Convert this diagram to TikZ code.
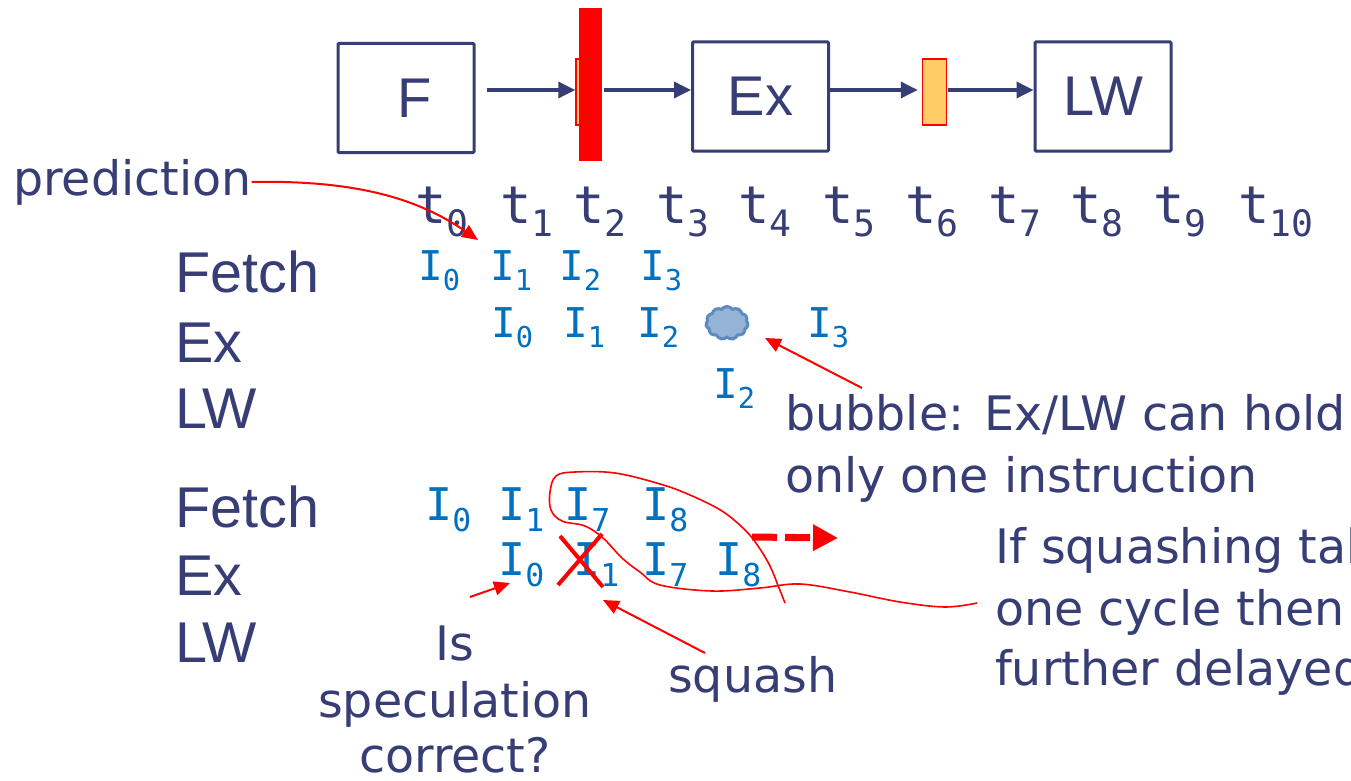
\documentclass[tikz,border=0pt]{standalone}
\usepackage{fontspec}
\usepackage{graphicx}
\setmainfont{Liberation Sans}
\newfontfamily\comic{DejaVu Sans}
\newfontfamily\mono{DejaVu Sans Mono}
\usetikzlibrary{arrows.meta,positioning,shapes.symbols}
\definecolor{navy}{RGB}{55,61,117}
\definecolor{iblue}{RGB}{0,112,192}
\definecolor{regorange}{RGB}{255,204,102}
\definecolor{bubfill}{RGB}{149,179,215}
\definecolor{bubdraw}{RGB}{91,139,192}
\newcommand{\sub}[1]{\raisebox{-0.25em}{\scalebox{0.7}{#1}}}

\begin{document}
\begin{tikzpicture}[x=1pt,y=-1pt,
stage/.style={draw=navy,line width=3pt,rounded corners=1pt,text=navy,
  minimum width=136pt,minimum height=109pt,font=\fontsize{56}{60}\selectfont},
reg/.style={draw=red,line width=1.5pt,fill=regorange,minimum width=24pt,minimum height=66pt,inner sep=0pt},
flow/.style={draw=navy,line width=3.5pt,-{Triangle[length=17pt,width=16pt]}},
redarrow/.style={draw=red,line width=2.5pt,-{Triangle[length=16pt,width=14pt]}},
rowlab/.style={anchor=base west,inner sep=0pt,text=navy,font=\fontsize{57.5}{60}\selectfont},
tick/.style={anchor=base west,inner sep=0pt,text=navy,font=\mono\fontsize{52}{56}\selectfont},
ins/.style={anchor=base west,inner sep=0pt,text=iblue,font=\mono\fontsize{41}{45}\selectfont},
insb/.style={ins,font=\mono\fontsize{45}{49}\selectfont},
note/.style={anchor=base west,inner sep=0pt,text=navy,font=\comic\fontsize{47.5}{50}\selectfont}]
\useasboundingbox (0,0) rectangle (1351,781);
\clip (0,0) rectangle (1351,781);
\fill[white] (0,0) rectangle (1351,781);

\node[stage] (boxF) at (406,98) {\hspace*{18pt}F};
\node[stage] (boxEx) at (760.5,96.5) {Ex};
\node[stage] (boxLW) at (1103,96.5) {LW};
\node[reg] (regA) at (588,92) {};
\node[fill=red,minimum width=23pt,minimum height=153pt,inner sep=0pt] (barA) at (590.5,84.5) {};
\node[reg] (regB) at (934.5,92) {};
\coordinate (lane) at (0,90);
\draw[flow,shorten <=11pt] (boxF.east |- lane) -- (regA.west |- lane);
\draw[flow,shorten <=2pt] (barA.east |- lane) -- (boxEx.west |- lane);
\draw[flow,shorten >=4pt] (boxEx.east |- lane) -- (regB.west |- lane);
\draw[flow,shorten <=1pt] (regB.east |- lane) -- (boxLW.west |- lane);

\node[note] (pred) at (13,195) {prediction};
\node[tick] (t0) at (415,223) {t\sub{0}};
\node[tick] (t1) at (500,223) {t\sub{1}};
\node[tick] (t2) at (573,223) {t\sub{2}};
\node[tick] (t3) at (656,223) {t\sub{3}};
\node[tick] (t4) at (738,223) {t\sub{4}};
\node[tick] (t5) at (822,223) {t\sub{5}};
\node[tick] (t6) at (905,223) {t\sub{6}};
\node[tick] (t7) at (988,223) {t\sub{7}};
\node[tick] (t8) at (1070,223) {t\sub{8}};
\node[tick] (t9) at (1153,223) {t\sub{9}};
\node[tick] (t10) at (1238,223) {t\sub{10}};
\coordinate (predTip) at (478,240);
\draw[redarrow,line width=2pt] (pred.east) .. controls (360,180) and (420,200) .. (predTip);

\node[rowlab] (labFa) at (175,292) {Fetch};
\node[rowlab] (labEa) at (175,362) {Ex};
\node[rowlab] (labLa) at (175,428) {LW};
\node[ins] (fa0) at (418,280) {I\sub{0}};
\node[ins] (fa1) at (490,280) {I\sub{1}};
\node[ins] (fa2) at (559,280) {I\sub{2}};
\node[ins] (fa3) at (640,280) {I\sub{3}};
\node[ins] (ea0) at (491,337) {I\sub{0}};
\node[ins] (ea1) at (563,337) {I\sub{1}};
\node[ins] (ea2) at (637,337) {I\sub{2}};
\node[ins] (ea3) at (807,337) {I\sub{3}};
\node[ins] (la2) at (713,398) {I\sub{2}};
\node[cloud,cloud puffs=11,cloud puff arc=110,aspect=1.3,fill=bubfill,draw=bubdraw,
  line width=3pt,minimum width=42pt,minimum height=33pt,inner sep=0pt] (bubble) at (727,323) {};
\node[note] (bubA) at (785,430) {bubble: Ex/LW can hold};
\node[note] (bubB) at (785,492) {only one instruction};
\coordinate (bubTail) at (862,388);
\coordinate (bubTip) at (765,338);
\draw[redarrow,line width=2pt] (bubTail) -- (bubTip);

\node[rowlab] (labFb) at (175,527) {Fetch};
\node[rowlab] (labEb) at (175,595) {Ex};
\node[rowlab] (labLb) at (175,662) {LW};
\node[insb] (fb0) at (425,520) {I\sub{0}};
\node[insb] (fb1) at (498,520) {I\sub{1}};
\node[insb] (fb7) at (564,520) {I\sub{7}};
\node[insb] (fb8) at (642,520) {I\sub{8}};
\node[insb] (eb0) at (498,575) {I\sub{0}};
\node[insb] (eb1) at (573,575) {I\sub{1}};
\node[insb] (eb7) at (642,575) {I\sub{7}};
\node[insb] (eb8) at (715,575) {I\sub{8}};
\draw[red,line width=4pt] (560,536) -- (603,587);
\draw[red,line width=4pt] (558,585) -- (602,534);
\draw[red,line width=1.6pt] plot[smooth,tension=0.6] coordinates {(785,603) (779,588) (770,566)
  (758,546) (745,530) (722,511) (690,495) (660,484) (615,473) (575,472) (556,476) (550,492)
  (551,510) (562,521) (585,526) (603,538) (622,558) (640,572) (660,585) (712,591) (760,588)
  (800,584) (850,592) (900,602) (945,607) (977,603)};
\coordinate (dashA) at (752,537);
\coordinate (dashB) at (838,538);
\draw[red,line width=7pt,dash pattern=on 25pt off 8pt,-{Triangle[length=25pt,width=25pt]}] (dashA) -- (dashB);
\node[note] (sqA) at (995,563) {If squashing takes};
\node[note] (sqB) at (995,625) {one cycle then \textcolor{iblue}{\mono I}};
\node[note] (sqC) at (995,685) {further delayed};

\node[note,anchor=base] (specA) at (455,660) {Is};
\node[note,anchor=base] (specB) at (455,717) {speculation};
\node[note,anchor=base] (specC) at (455,772) {correct?};
\node[note] (squash) at (668,692) {squash};
\coordinate (isTail) at (470,597);
\coordinate (isTip) at (510,583);
\draw[redarrow,line width=2pt] (isTail) -- (isTip);
\coordinate (sqTail) at (705,653);
\coordinate (sqTip) at (603,600);
\draw[redarrow,line width=2pt] (sqTail) -- (sqTip);
\end{tikzpicture}
\end{document}
